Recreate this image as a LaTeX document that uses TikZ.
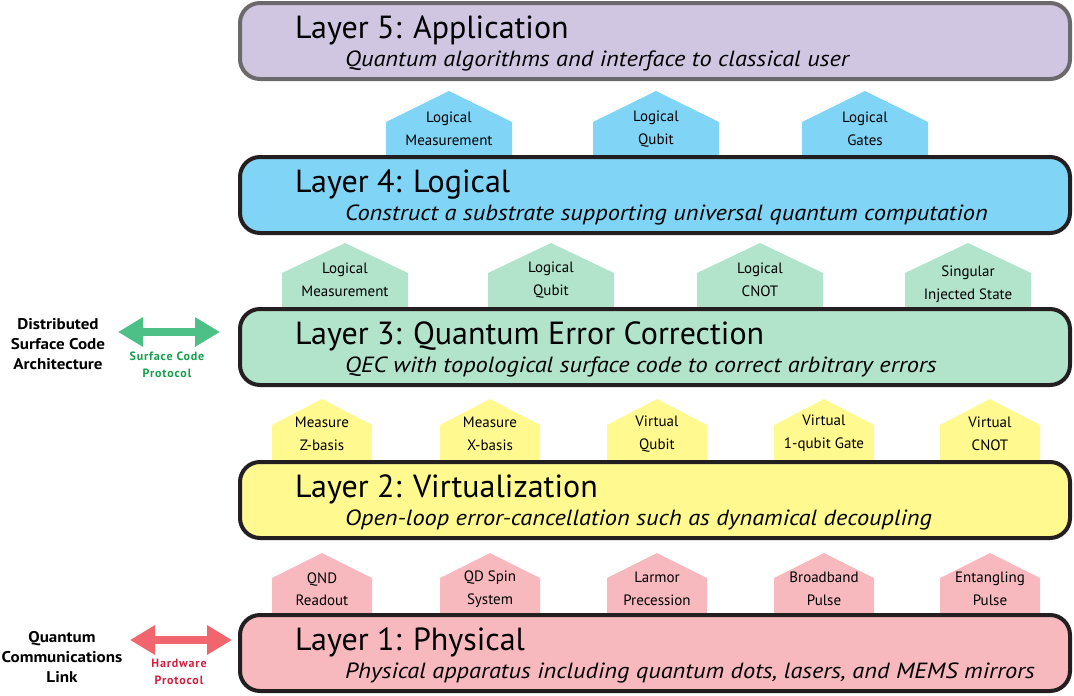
\documentclass[tikz,border=0pt]{standalone}
\usepackage{fontspec}
\setmainfont{PT Sans}
\newfontfamily\subfont[FakeStretch=1.11]{PT Sans Italic}
\newfontfamily\sidefont[FakeStretch=1.1]{PT Sans Bold}
\newfontfamily\protofont[LetterSpace=7]{PT Sans Bold}
\usetikzlibrary{arrows.meta}
\definecolor{c5}{HTML}{D0C6E1}
\definecolor{c4}{HTML}{80D4F5}
\definecolor{c3}{HTML}{B2E3CB}
\definecolor{c2}{HTML}{FFF98F}
\definecolor{c1}{HTML}{F7B9BE}
\definecolor{grayb}{HTML}{6B696B}
\definecolor{darkb}{HTML}{231F20}
\definecolor{garrow}{HTML}{4CC087}
\definecolor{gtext}{HTML}{12A04B}
\definecolor{rarrow}{HTML}{F0656E}
\definecolor{rtext}{HTML}{D3203F}
\tikzset{
  layerbox/.style={line width=4pt, rounded corners=20pt},
  title/.style={anchor=base west, font=\fontsize{32}{32}\selectfont, inner sep=0pt},
  subtitle/.style={anchor=base west, font=\subfont\fontsize{22}{22}\selectfont, inner sep=0pt},
  tagtext/.style={align=center, font=\fontsize{15}{22.5}\selectfont, inner sep=0pt},
  sidelabel/.style={align=center, font=\sidefont\fontsize{15.5}{20}\selectfont, inner sep=0pt},
  protolabel/.style={align=center, font=\protofont\fontsize{12}{16.5}\selectfont, inner sep=0pt},
}
% tag: center x, apex y, shoulder y, bottom y, half width, colour, name, text, text y
\newcommand{\qtag}[9]{%
  \fill[#6] (#1-#5,#4) -- (#1-#5,#3) -- (#1,#2) -- (#1+#5,#3) -- (#1+#5,#4) -- cycle;
  \node[tagtext] (#7) at (#1,#9) {#8};
}
\begin{document}
\begin{tikzpicture}[x=1pt,y=-1pt]
\useasboundingbox (0,0) rectangle (1074,696);

% ---- tags layer 4 (blue)
\qtag{449}{91}{122}{158}{63}{c4}{t41}{Logical\\Measurement}{129}
\qtag{656}{91}{122}{158}{63}{c4}{t42}{Logical\\Qubit}{129}
\qtag{865}{91}{122}{158}{63}{c4}{t43}{Logical\\Gates}{129}
% ---- tags layer 3 (mint)
\qtag{345}{243}{273}{310}{63}{c3}{t31}{Logical\\Measurement}{280}
\qtag{551}{243}{273}{310}{63}{c3}{t32}{Logical\\Qubit}{280}
\qtag{760}{243}{273}{310}{63}{c3}{t33}{Logical\\CNOT}{280}
\qtag{968}{243}{273}{310}{63}{c3}{t34}{Singular\\Injected State}{284}
% ---- tags layer 2 (yellow)
\qtag{322}{399}{425}{463}{50}{c2}{t21}{Measure\\Z-basis}{434}
\qtag{490}{399}{425}{463}{50}{c2}{t22}{Measure\\X-basis}{434}
\qtag{657}{399}{425}{463}{50}{c2}{t23}{Virtual\\Qubit}{434}
\qtag{824}{399}{425}{463}{50}{c2}{t24}{Virtual\\1-qubit Gate}{433}
\qtag{990}{399}{425}{463}{50}{c2}{t25}{Virtual\\CNOT}{434}
% ---- tags layer 1 (pink)
\qtag{322}{553}{578}{616}{50}{c1}{t11}{QND\\Readout}{589}
\qtag{490}{553}{578}{616}{50}{c1}{t12}{QD Spin\\System}{589}
\qtag{657}{553}{578}{616}{50}{c1}{t13}{Larmor\\Precession}{589}
\qtag{824}{553}{578}{616}{50}{c1}{t14}{Broadband\\Pulse}{589}
\qtag{990}{553}{578}{616}{50}{c1}{t15}{Entangling\\Pulse}{589}

% ---- layer boxes
\draw[layerbox, draw=grayb, fill=c5] (240,3) rectangle (1070,79);
\draw[layerbox, draw=darkb, fill=c4] (240,157) rectangle (1070,233);
\draw[layerbox, draw=darkb, fill=c3] (240,309) rectangle (1070,385);
\draw[layerbox, draw=darkb, fill=c2] (240,462) rectangle (1070,538);
\draw[layerbox, draw=darkb, fill=c1] (240,615) rectangle (1070,691);

\node[title] (L5) at (295,38) {Layer 5: Application};
\node[subtitle] (S5) at (345,66) {Quantum algorithms and interface to classical user};
\node[title] (L4) at (295,192) {Layer 4: Logical};
\node[subtitle] (S4) at (345,220) {Construct a substrate supporting universal quantum computation};
\node[title] (L3) at (295,344) {Layer 3: Quantum Error Correction};
\node[subtitle] (S3) at (345,372) {QEC with topological surface code to correct arbitrary errors};
\node[title] (L2) at (295,497) {Layer 2: Virtualization};
\node[subtitle] (S2) at (345,525) {Open-loop error-cancellation such as dynamical decoupling};
\node[title] (L1) at (295,650) {Layer 1: Physical};
\node[subtitle] (S1) at (345,678) {Physical apparatus including quantum dots, lasers, and MEMS mirrors};

% ---- side labels and arrows
\node[sidelabel] (dist) at (58,344) {Distributed\\Surface Code\\Architecture};
\coordinate (ga) at (118,332);
\coordinate (gb) at (220,332);
\draw[garrow, line width=8pt, {Triangle[width=28pt,length=25pt]}-{Triangle[width=28pt,length=25pt]}] (ga) -- (gb);
\node[protolabel, text=gtext] (sp) at (167,365) {Surface Code\\Protocol};

\node[sidelabel] (qcl) at (62,657) {Quantum\\Communications\\Link};
\coordinate (ra) at (130,640);
\coordinate (rb) at (232,640);
\draw[rarrow, line width=8pt, {Triangle[width=28pt,length=25pt]}-{Triangle[width=28pt,length=25pt]}] (ra) -- (rb);
\node[protolabel, text=rtext] (hp) at (179,672) {Hardware\\Protocol};
\end{tikzpicture}
\end{document}
